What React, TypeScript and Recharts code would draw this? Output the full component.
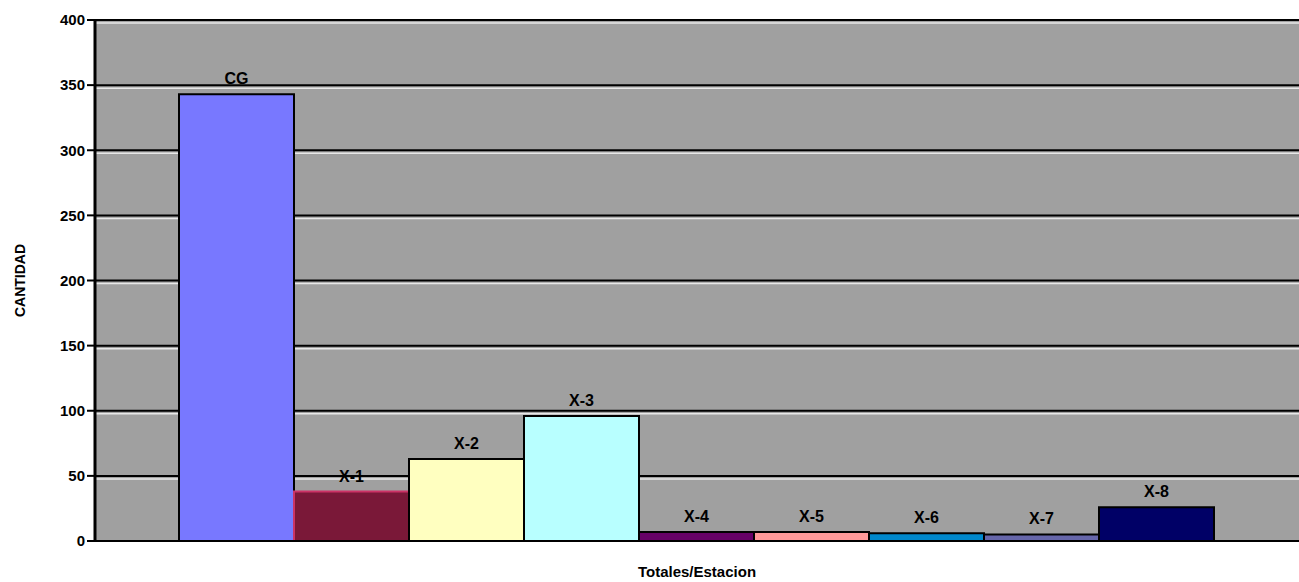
import { BarChart, Bar, XAxis, YAxis, CartesianGrid, LabelList } from 'recharts'

const stations = ['CG', 'X-1', 'X-2', 'X-3', 'X-4', 'X-5', 'X-6', 'X-7', 'X-8']
const totals = [343, 38, 63, 96, 7, 7, 6, 5, 26]
const yTicks = [0, 50, 100, 150, 200, 250, 300, 350, 400]
const yMax = 400

const fills = ['#7878FF', '#7A1838', '#FFFFC0', '#B8FFFF', '#660066', '#FF9999', '#0088CC', '#6666AA', '#000066']
const strokes = ['#000', '#CC3366', '#000', '#000', '#000', '#000', '#000', '#000', '#000']

const row: Record<string, string | number> = { cat: 'Totales' }
stations.forEach((s, i) => { row[s] = totals[i] })
const data = [row]

const font = '"Liberation Sans", Arial, sans-serif'

// white highlight just under each black gridline, like the old Excel look
const shadowLines = (props: any) => {
  const top = props?.offset?.top ?? 20
  const h = props?.offset?.height ?? 521
  return yTicks.filter(t => t > 0).map(t => top + h * (1 - t / yMax) + 3)
}

export default function App() {
  return (
    <div style={{ position: 'absolute', left: 0, top: 0, background: '#fff' }}>
      <BarChart width={1299} height={582} data={data}
        margin={{ top: 20, right: 0, left: 0, bottom: 0 }}
        barCategoryGap={84} barGap={0}>
        <CartesianGrid vertical={false} stroke="#000" strokeWidth={2} fill="#A0A0A0" fillOpacity={1} />
        <CartesianGrid vertical={false} stroke="#E8E8E8" strokeWidth={1.5}
          horizontalCoordinatesGenerator={shadowLines} />
        <XAxis dataKey="cat" tick={false} tickLine={false} height={41}
          axisLine={{ stroke: '#000', strokeWidth: 2 }}
          label={{ value: 'Totales/Estacion', position: 'insideBottom', offset: 5,
            style: { fontFamily: font, fontWeight: 'bold', fontSize: 15, fill: '#000' } }} />
        <YAxis domain={[0, yMax]} ticks={yTicks} width={95} interval={0}
          axisLine={{ stroke: '#000', strokeWidth: 3 }}
          tickLine={{ stroke: '#000', strokeWidth: 2 }} tickSize={8}
          tick={{ fontFamily: font, fontWeight: 'bold', fontSize: 15, fill: '#000' }}
          label={{ value: 'CANTIDAD', angle: -90, position: 'insideLeft', offset: 20,
            style: { textAnchor: 'middle', fontFamily: font, fontWeight: 'bold', fontSize: 14, fill: '#000' } }} />
        {stations.map((s, i) => (
          <Bar key={s} dataKey={s} fill={fills[i]} stroke={strokes[i]} strokeWidth={2}
            isAnimationActive={false}>
            <LabelList dataKey={s} position="top" offset={10}
              formatter={() => s}
              style={{ fontFamily: font, fontWeight: 'bold', fontSize: 16, fill: '#000' }} />
          </Bar>
        ))}
      </BarChart>
    </div>
  )
}
